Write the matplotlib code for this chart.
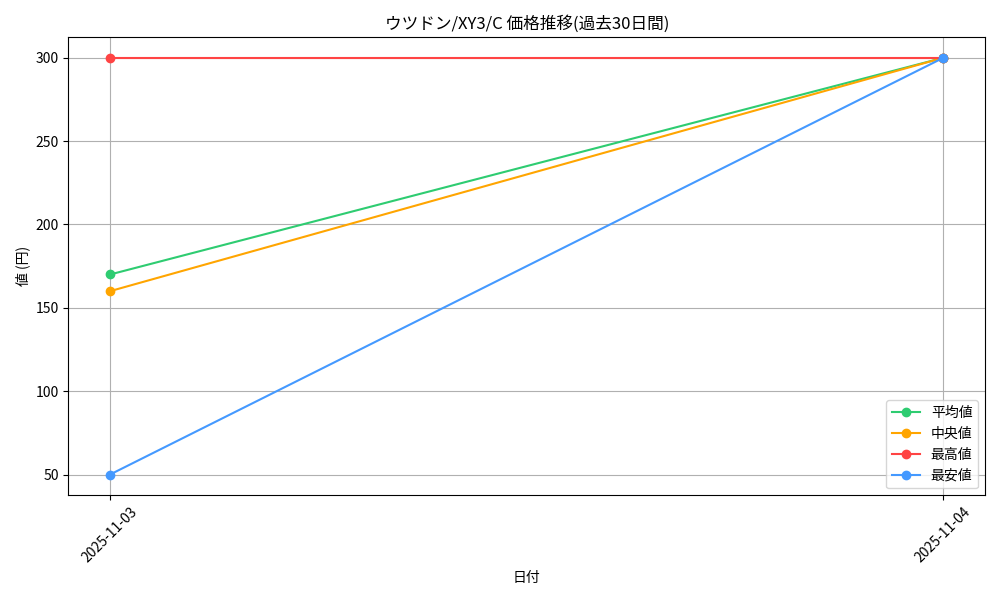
import matplotlib
matplotlib.use("Agg")
import matplotlib.pyplot as plt

plt.rcParams['font.family'] = ['Noto Sans CJK JP', 'DejaVu Sans']

dates = ["2025-11-03", "2025-11-04"]
avg_price = [170, 300]
median_price = [160, 300]
max_price = [300, 300]
min_price = [50, 300]

fig, ax = plt.subplots(figsize=(10, 6), dpi=100)
ax.plot(dates, avg_price, marker="o", color="#2ecc71", label="平均値")
ax.plot(dates, median_price, marker="o", color="#FFA500", label="中央値")
ax.plot(dates, max_price, marker="o", color="#ff4444", label="最高値")
ax.plot(dates, min_price, marker="o", color="#4499ff", label="最安値")

ax.set_title("ウツドン/XY3/C 価格推移(過去30日間)")
ax.set_xlabel("日付")
ax.set_ylabel("値 (円)")
ax.grid(True)
ax.legend(loc="lower right")
plt.xticks(rotation=45)
fig.tight_layout()
fig.savefig("out.png")
